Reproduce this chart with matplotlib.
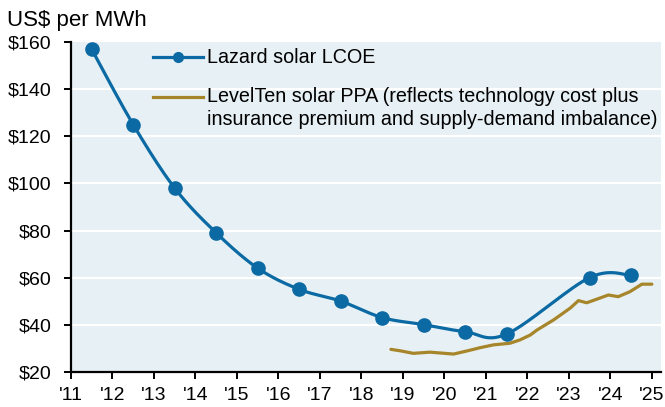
import numpy as np
import matplotlib
matplotlib.use("Agg")
import matplotlib.pyplot as plt
from matplotlib.lines import Line2D

plt.rcParams['font.family'] = ['Liberation Sans', 'DejaVu Sans']

# ---- data ----
lazard_years = [2011.5, 2012.5, 2013.5, 2014.5, 2015.5, 2016.5, 2017.5, 2018.5,
                2019.5, 2020.5, 2021.5, 2023.5, 2024.5]
lazard_values = [157, 125, 98, 79, 64, 55, 50, 43, 40, 37, 36, 60, 61]

ppa_years = [2018.71, 2018.93, 2019.25, 2019.65, 2020.22, 2020.54, 2020.86, 2021.18,
             2021.58, 2021.82, 2022.07, 2022.23, 2022.63, 2023.03, 2023.23, 2023.43,
             2023.67, 2023.95, 2024.19, 2024.47, 2024.76, 2025.0]
ppa_values = [29.5, 28.9, 27.8, 28.3, 27.5, 28.8, 30.2, 31.4,
              32.1, 33.5, 35.6, 37.7, 42.0, 47.0, 50.2, 49.3,
              50.8, 52.6, 51.9, 54.0, 57.2, 57.2]

x_ticks = list(range(2011, 2026))
x_ticklabels = ["'" + str(y)[2:] for y in x_ticks]
y_ticks = [20, 40, 60, 80, 100, 120, 140, 160]
y_ticklabels = ['$' + str(v) for v in y_ticks]

label_lazard = 'Lazard solar LCOE'
label_ppa = 'LevelTen solar PPA (reflects technology cost plus\ninsurance premium and supply-demand imbalance)'
y_title = 'US$ per MWh'

BLUE = '#0B69A3'
GOLD = '#A7852A'
BG = '#E7F0F4'


def smooth(xs, ys, n=30):
    """Catmull-Rom smoothing for display (like a smoothed line chart)."""
    xs = np.asarray(xs, float)
    ys = np.asarray(ys, float)
    px = np.concatenate([[xs[0]], xs, [xs[-1]]])
    py = np.concatenate([[ys[0]], ys, [ys[-1]]])
    ox, oy = [], []
    t = np.linspace(0, 1, n, endpoint=False)
    for i in range(1, len(px) - 2):
        p0, p1, p2, p3 = (np.array([px[j], py[j]]) for j in range(i - 1, i + 3))
        m1 = (p2 - p0) / 2.0
        m2 = (p3 - p1) / 2.0
        h00 = 2 * t**3 - 3 * t**2 + 1
        h10 = t**3 - 2 * t**2 + t
        h01 = -2 * t**3 + 3 * t**2
        h11 = t**3 - t**2
        pts = (np.outer(h00, p1) + np.outer(h10, m1) + np.outer(h01, p2) + np.outer(h11, m2))
        ox.extend(pts[:, 0]); oy.extend(pts[:, 1])
    ox.append(xs[-1]); oy.append(ys[-1])
    return np.array(ox), np.array(oy)


fig = plt.figure(figsize=(6.65, 4.07), dpi=100)
ax = fig.add_axes([71 / 665, (407 - 371.7) / 407, 590 / 665, 329.4 / 407])
ax.set_facecolor(BG)

ax.set_xlim(2011, 2025.22)
ax.set_ylim(20, 160)

for v in y_ticks[1:-1]:
    ax.axhline(v, color='white', lw=1.6, zorder=1)

sx, sy = smooth(lazard_years, lazard_values)
ax.plot(sx, sy, color=BLUE, lw=2.3, zorder=3, solid_capstyle='round')
ax.plot(lazard_years, lazard_values, 'o', color=BLUE, ms=9.5, zorder=4)
ax.plot(ppa_years, ppa_values, color=GOLD, lw=2.3, zorder=2, solid_capstyle='round')

# legend (drawn in axes coordinates)
hx0, hx1, tx = 0.139, 0.2237, 0.230
row1, row2 = 0.9563, 0.8349
base1, base2_last = 0.9363, 0.749
ax.add_line(Line2D([hx0, hx1], [row1, row1], color=BLUE, lw=2.3,
                   transform=ax.transAxes, zorder=5))
ax.add_line(Line2D([(hx0 + hx1) / 2], [row1], color=BLUE, marker='o', ms=7,
                   transform=ax.transAxes, zorder=5))
ax.add_line(Line2D([hx0, hx1], [row2, row2], color=GOLD, lw=2.3,
                   transform=ax.transAxes, zorder=5))
ax.text(tx, base1, label_lazard, transform=ax.transAxes, fontsize=14.2,
        ha='left', va='baseline', zorder=5)
ax.text(tx, base2_last, label_ppa, transform=ax.transAxes, fontsize=14.2,
        ha='left', va='baseline', linespacing=1.24, zorder=5)

ax.set_xticks(x_ticks)
ax.set_xticklabels(x_ticklabels)
ax.set_yticks(y_ticks)
ax.set_yticklabels(y_ticklabels)
ax.tick_params(axis='both', labelsize=14, length=5, width=1.4, color='black')
ax.tick_params(axis='y', pad=9)
ax.tick_params(axis='x', pad=6)

for s in ['top', 'right']:
    ax.spines[s].set_visible(False)
for s in ['left', 'bottom']:
    ax.spines[s].set_linewidth(1.6)
    ax.spines[s].set_color('black')

fig.text(7 / 665, 1 - 20.5 / 407, y_title, fontsize=16, ha='left', va='center')

fig.savefig('out.png', dpi=100)
